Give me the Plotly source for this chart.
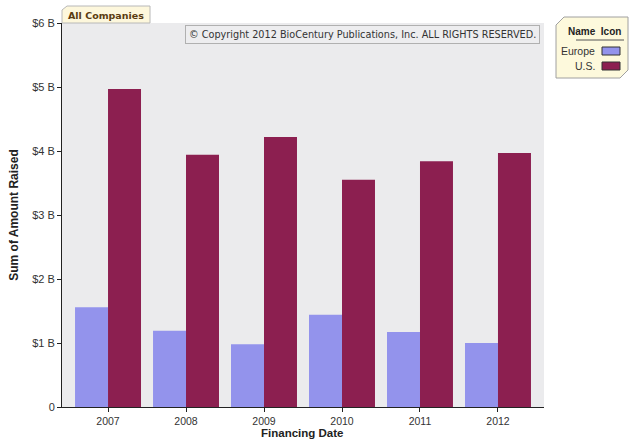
import plotly.graph_objects as go

years = ["2007", "2008", "2009", "2010", "2011", "2012"]
europe = [1.56, 1.19, 0.98, 1.44, 1.17, 1.00]
us = [4.97, 3.94, 4.22, 3.55, 3.84, 3.97]
y_ticks = [0, 1, 2, 3, 4, 5, 6]
y_labels = ["0", "$1 B", "$2 B", "$3 B", "$4 B", "$5 B", "$6 B"]

W, H = 632, 439
L, R, T, B = 62, 632 - 544, 23, 439 - 407
pw, ph = W - L - R, H - T - B
def px(x): return (x - L) / pw      # reference pixel x -> paper
def py(y): return 1 - (y - T) / ph  # reference pixel y -> paper

fig = go.Figure()
fig.add_trace(go.Bar(x=years, y=europe, name="Europe",
                     marker=dict(color="#9393ec", line=dict(width=0))))
fig.add_trace(go.Bar(x=years, y=us, name="U.S.",
                     marker=dict(color="#8c1f50", line=dict(width=0))))

fig.update_layout(
    width=W, height=H,
    margin=dict(l=L, r=R, t=T, b=B, autoexpand=False),
    paper_bgcolor="white", plot_bgcolor="#ebebed",
    barmode="group", bargap=0.154, bargroupgap=0,
    showlegend=False,
    font=dict(family="Liberation Sans, Arial", size=11, color="#333"),
)
fig.update_xaxes(type="category", range=[-0.59, 5.59], showline=True, linecolor="#222",
                 linewidth=1, ticks="outside", ticklen=4, tickcolor="#222", automargin=False,
                 showgrid=False, tickfont=dict(size=10.5, color="#333"))
fig.update_yaxes(range=[0, 6], tickvals=y_ticks, ticktext=y_labels, showline=True,
                 linecolor="#222", linewidth=1, ticks="outside", ticklen=4, tickcolor="#222",
                 showgrid=False, zeroline=False, tickfont=dict(size=11, color="#333"), automargin=False,
                 title=dict(text="<b>Sum of Amount Raised</b>", font=dict(size=12, color="#222"), standoff=10))

# x-axis title placed as annotation below tick labels
fig.add_annotation(xref="paper", yref="paper", x=px(302), y=py(440), xanchor="center", yanchor="bottom",
                   text="<b>Financing Date</b>", showarrow=False, borderpad=0,
                   font=dict(size=11.5, color="#222"))

# "All Companies" tab
fig.add_shape(type="path", xref="paper", yref="paper",
              path=f"M {px(62)} {py(23)} L {px(62)} {py(10)} L {px(67)} {py(6)} L {px(150)} {py(6)} L {px(150)} {py(23)} Z",
              fillcolor="#fdf7dc", line=dict(color="#b8b8b8", width=1))
fig.add_annotation(xref="paper", yref="paper", x=px(66), y=py(15), xanchor="left", yanchor="middle",
                   text="<b>All Companies</b>", showarrow=False,
                   font=dict(family="DejaVu Sans, Verdana", size=9.5, color="#5a3b10"))

# copyright box
fig.add_annotation(xref="paper", yref="paper", x=px(540), y=py(25), xanchor="right", yanchor="top",
                   text="© Copyright 2012 BioCentury Publications, Inc. ALL RIGHTS RESERVED.",
                   showarrow=False, bgcolor="#ededef", bordercolor="#b0b0b0", borderwidth=1, borderpad=3,
                   font=dict(family="DejaVu Sans, Tahoma", size=9.7, color="#333"))

# custom legend box
x0, x1, y0, y1 = px(556), px(628), py(17), py(78)
fig.add_shape(type="path", xref="paper", yref="paper",
              path=f"M {px(564)} {y0} L {x1} {y0} L {x1} {py(70)} L {px(620)} {y1} L {x0} {y1} L {x0} {py(25)} Z",
              fillcolor="#fdf9dc", line=dict(color="#a0a0a0", width=1))
fig.add_annotation(xref="paper", yref="paper", x=px(594), y=py(31), xanchor="center", yanchor="middle",
                   text="<b>Name  Icon</b>", showarrow=False, font=dict(size=10, color="#222"))
fig.add_shape(type="line", xref="paper", yref="paper", x0=px(576), x1=px(624), y0=py(40), y1=py(40),
              line=dict(color="#555", width=1))
fig.add_annotation(xref="paper", yref="paper", x=px(597), y=py(51), xanchor="right", yanchor="middle",
                   text="Europe", showarrow=False, font=dict(size=10.5, color="#333"))
fig.add_annotation(xref="paper", yref="paper", x=px(597), y=py(66), xanchor="right", yanchor="middle",
                   text="U.S.", showarrow=False, font=dict(size=10.5, color="#333"))
for yy, col in [(51, "#9393ec"), (66, "#8c1f50")]:
    fig.add_shape(type="rect", xref="paper", yref="paper", x0=px(602), x1=px(620),
                  y0=py(yy - 4), y1=py(yy + 4), fillcolor=col, line=dict(color="#333", width=1))

css = ("var s=document.documentElement.style,b=document.body.style;"
       "s.margin=b.margin='0';s.padding=b.padding='0';"
       "s.height=b.height='439px';s.overflow=b.overflow='hidden';")
fig.write_html("out.html", config={"displayModeBar": False}, post_script=css)
